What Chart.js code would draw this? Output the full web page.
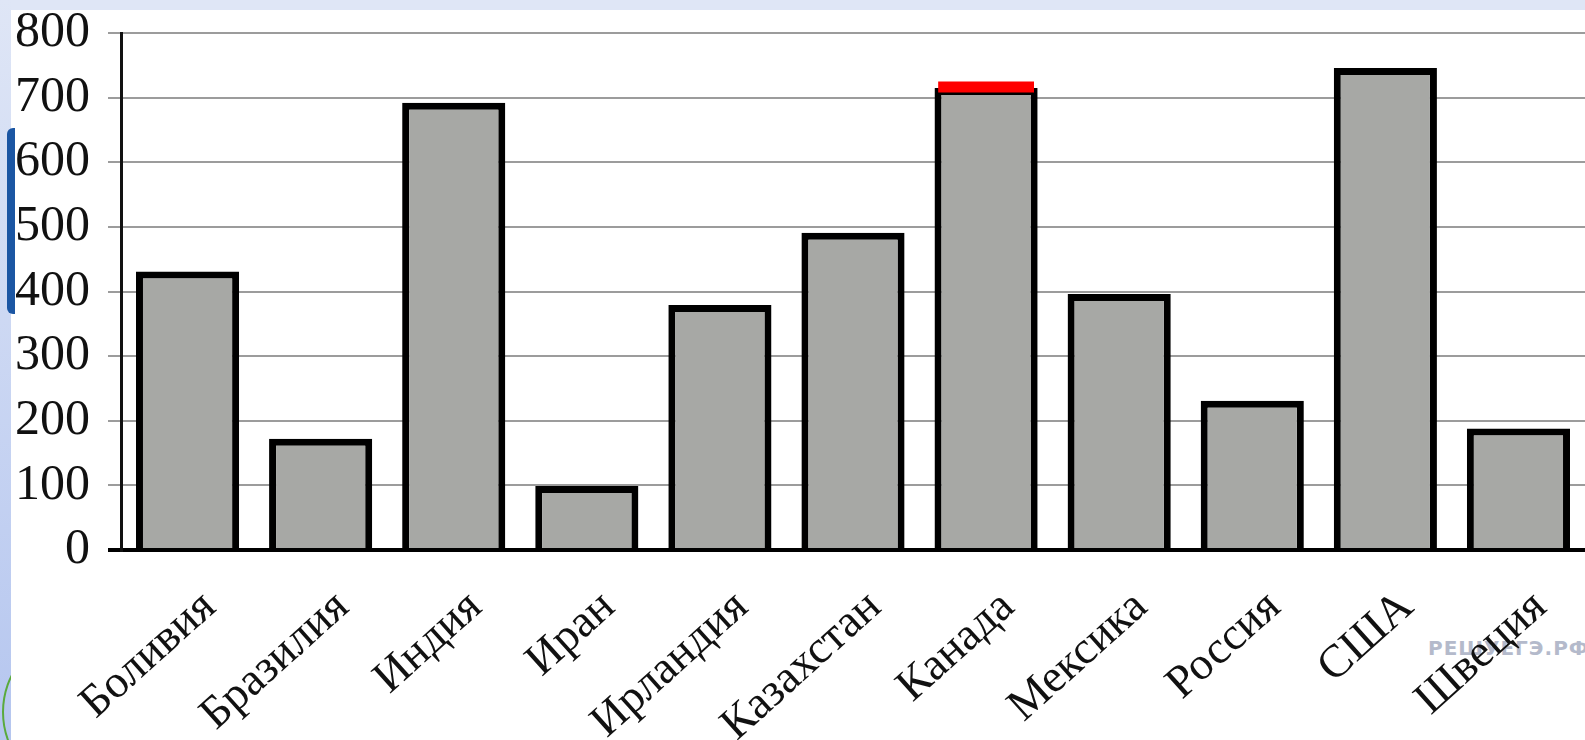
<!DOCTYPE html>
<html>
<head>
<meta charset="utf-8">
<script src="https://cdn.jsdelivr.net/npm/chart.js@4"></script>
<style>
  html, body { margin: 0; padding: 0; width: 1585px; height: 740px; overflow: hidden; background: #ffffff; }
  #wrap { position: absolute; left: 0; top: 0; width: 1585px; height: 740px; }
  #c { position: absolute; left: 0; top: 0; z-index: 2; }
  #wm { position: absolute; left: 1428px; top: 636px; z-index: 1; font-family: "DejaVu Sans", sans-serif; font-weight: bold; font-size: 20px; color: #b4bacb; letter-spacing: 1px; }
  #topStrip { position: absolute; left: 0; top: 0; width: 1585px; height: 10px; background: #dfe6f6; z-index: 5; }
  #leftStrip { position: absolute; left: 0; top: 0; width: 11px; height: 740px; background: linear-gradient(#dfe6f6, #b5c6ef); z-index: 5; overflow: hidden; }
  #blueMark { position: absolute; left: 7px; top: 128px; width: 8px; height: 186px; background: #1b56a3; border-radius: 6px 0 0 6px; z-index: 6; }
  #greenArc { position: absolute; left: 2px; top: 640px; width: 120px; height: 140px; border: 2px solid #5aaa3c; border-radius: 50%; }
</style>
</head>
<body>
<div id="wrap">
  <div id="wm">РЕШУЕГЭ.РФ</div>
  <canvas id="c" width="1585" height="740"></canvas>
  <div id="topStrip"></div>
  <div id="leftStrip"><div id="greenArc"></div></div>
  <div id="blueMark"></div>
</div>
<script>
const categories = ['Боливия', 'Бразилия', 'Индия', 'Иран', 'Ирландия', 'Казахстан', 'Канада', 'Мексика', 'Россия', 'США', 'Швеция'];
const values = [431, 172, 692, 99, 379, 491, 715, 396, 231, 746, 188];
const highlightCategory = 'Канада';
const highlightRange = [708, 725];
const yTicks = [0, 100, 200, 300, 400, 500, 600, 700, 800];

const highlightData = categories.map(c => c === highlightCategory ? highlightRange : null);

new Chart(document.getElementById('c'), {
  type: 'bar',
  data: {
    labels: categories,
    datasets: [
      {
        data: highlightData,
        backgroundColor: '#ff0000',
        borderWidth: 0,
        grouped: false,
        barPercentage: 0.72,
        categoryPercentage: 1,
        order: 0
      },
      {
        data: values,
        backgroundColor: '#a7a8a5',
        borderColor: '#000000',
        borderWidth: 7,
        borderSkipped: 'bottom',
        grouped: false,
        barPercentage: 0.775,
        categoryPercentage: 1,
        order: 1
      }
    ]
  },
  options: {
    responsive: false,
    animation: false,
    devicePixelRatio: 1,
    layout: { padding: { top: 33, left: 0, right: 0, bottom: 0 } },
    plugins: { legend: { display: false }, tooltip: { enabled: false } },
    scales: {
      x: {
        grid: { display: false },
        border: { display: false },
        ticks: {
          autoSkip: false,
          minRotation: 42,
          maxRotation: 42,
          padding: 22,
          labelOffset: 22,
          color: '#111111',
          font: { family: '"Liberation Serif", serif', size: 46 }
        },
        afterFit: (s) => { s.height = 190; }
      },
      y: {
        min: 0,
        max: 800,
        afterBuildTicks: (s) => { s.ticks = yTicks.map(v => ({ value: v })); },
        grid: {
          color: (ctx) => ctx.tick && ctx.tick.value === 0 ? '#000000' : '#9c9c9c',
          lineWidth: (ctx) => ctx.tick && ctx.tick.value === 0 ? 4 : 2,
          tickLength: 13,
          tickColor: (ctx) => ctx.tick && ctx.tick.value === 0 ? '#000000' : '#9c9c9c',
          tickWidth: (ctx) => ctx.tick && ctx.tick.value === 0 ? 4 : 2
        },
        border: { display: true, color: '#111111', width: 3 },
        ticks: {
          autoSkip: false,
          padding: 18,
          color: '#111111',
          font: { family: '"Liberation Serif", serif', size: 50, lineHeight: 0.5 }
        },
        afterFit: (s) => { s.width = 121; }
      }
    }
  }
});
</script>
</body>
</html>
